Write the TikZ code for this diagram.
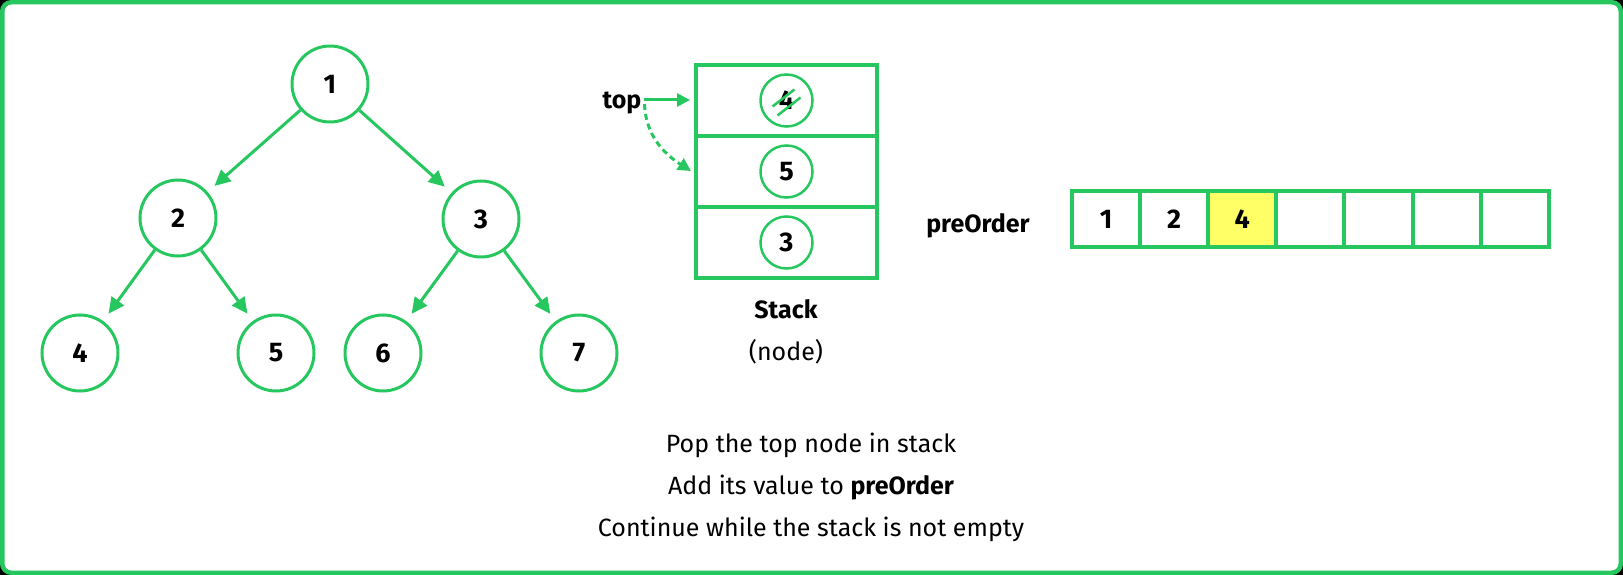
\documentclass[tikz,border=0pt]{standalone}
\usepackage{fontspec}
\setmainfont{Fira Sans}
\usetikzlibrary{arrows.meta}
\definecolor{gg}{RGB}{38,199,94}
\definecolor{yl}{RGB}{255,255,102}
\begin{document}
\begin{tikzpicture}[x=1pt,y=-1pt,
  tnode/.style={circle,draw=gg,line width=3pt,minimum size=76pt,inner sep=0pt,font=\fontsize{27}{32}\selectfont\bfseries},
  snode/.style={circle,draw=gg,line width=2.5pt,minimum size=52pt,inner sep=0pt,font=\fontsize{27}{32}\selectfont\bfseries},
  edge/.style={draw=gg,line width=3pt,-{Triangle[length=16pt,width=15pt]},shorten >=9pt},
  cell/.style={draw=gg,line width=3.5pt,minimum width=181pt,minimum height=71pt,inner sep=0pt},
  acell/.style={draw=gg,line width=4pt,minimum width=68.1pt,minimum height=56pt,inner sep=0pt,font=\fontsize{27}{32}\selectfont\bfseries},
  lbl/.style={anchor=base,inner sep=0pt,font=\fontsize{25}{30}\selectfont\bfseries},
  txt/.style={anchor=base,inner sep=0pt,font=\fontsize{25}{30}\selectfont},
  ptr/.style={draw=gg,line width=3pt,-{Triangle[length=13pt,width=13pt]}}]
\useasboundingbox (0,0) rectangle (1623,575);
\fill[black] (0,0) rectangle (1623,575);
\draw[gg,fill=white,line width=4.5pt,rounded corners=9pt] (2.25,2.25) rectangle (1620.75,572.75);
% tree
\node[tnode] (n1) at (330,84) {1};
\node[tnode] (n2) at (178,218) {2};
\node[tnode] (n3) at (481,219) {3};
\node[tnode] (n4) at (80,353) {4};
\node[tnode] (n5) at (276,353) {5};
\node[tnode] (n6) at (383,353) {6};
\node[tnode] (n7) at (579,353) {7};
\draw[edge] (n1) -- (n2);
\draw[edge] (n1) -- (n3);
\draw[edge] (n2) -- (n4);
\draw[edge] (n2) -- (n5);
\draw[edge] (n3) -- (n6);
\draw[edge] (n3) -- (n7);
% stack
\node[cell] (s1) at (786.5,100.5) {};
\node[cell] (s2) at (786.5,171.5) {};
\node[cell] (s3) at (786.5,242.5) {};
\node[snode] (c4) at (s1) {4};
\node[snode] (c5) at (s2) {5};
\node[snode] (c3) at (s3) {3};
\draw[gg,line width=2.5pt] ([shift={(-14,6)}]c4.center) -- ([shift={(8,-11)}]c4.center);
\draw[gg,line width=2.5pt] ([shift={(-9,15)}]c4.center) -- ([shift={(14,-3)}]c4.center);
\node[lbl] (toplbl) at (622,109) {top};
\coordinate (p1) at (690,100);
\coordinate (p2) at (691,171);
\draw[ptr] (toplbl.east |- p1) ++(2,0) -- (p1);
\draw[ptr,dash pattern=on 6pt off 4pt] ([shift={(3,4)}]toplbl.east |- p1) .. controls +(1,35) and +(-22,-14) .. (p2);
\node[lbl] (stk) at (786,318) {Stack};
\node[txt] (nd) at (786,360) {(node)};
% preOrder array
\node[lbl] (po) at (978,232) {preOrder};
\foreach \i/\v in {1/1,2/2,3/4,4/,5/,6/,7/}{
  \node[acell] (a\i) at ({1072+68.1*(\i-0.5)},219) {\v};
}
\node[acell,fill=yl] at (a3) {4};
% caption
\node[txt] (l1) at (811,452) {Pop the top node in stack};
\node[txt] (l2) at (811,494) {Add its value to \textbf{preOrder}};
\node[txt] (l3) at (811,536) {Continue while the stack is not empty};
\end{tikzpicture}
\end{document}
